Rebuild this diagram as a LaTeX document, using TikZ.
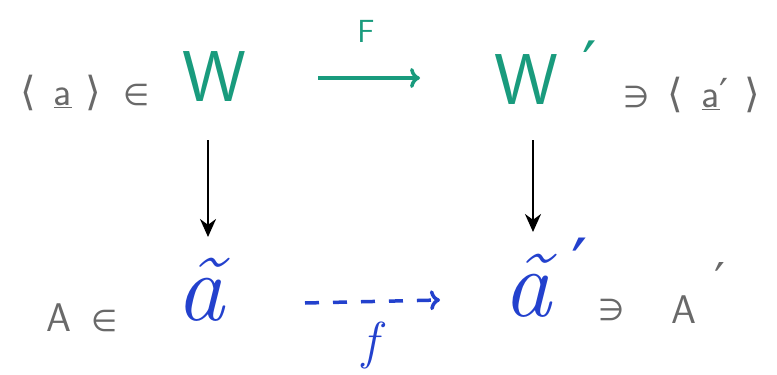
\documentclass[tikz,border=0pt]{standalone}
\usepackage{fontspec}
\newfontfamily\symf{DejaVu Sans}
\usetikzlibrary{arrows.meta}
\definecolor{penGreen}{RGB}{25,155,125}
\definecolor{penBlue}{RGB}{35,65,205}
\definecolor{penGray}{RGB}{105,105,105}
\tikzset{
  graytxt/.style={text=penGray, inner sep=0pt, font=\fontsize{40}{44}\selectfont\sffamily},
  greentxt/.style={text=penGreen, inner sep=0pt, font=\fontsize{72}{76}\selectfont\sffamily},
  bluetxt/.style={text=penBlue, inner sep=0pt, font=\fontsize{96}{100}\selectfont\itshape},
  downarrow/.style={draw=black, line width=2.4pt, -{Stealth[length=18pt,width=16pt]}},
  toparrow/.style={draw=penGreen, line width=3.5pt, -{To[length=10pt,width=20pt]}},
  dasharrow/.style={draw=penBlue, line width=3.5pt, dash pattern=on 14pt off 14pt, -{To[length=10pt,width=20pt]}},
  lbl/.style={inner sep=0pt}
}
\newcommand{\pr}{{\symf ′}}
\begin{document}
\begin{tikzpicture}[x=1pt,y=-1pt]
\useasboundingbox (0,0) rectangle (777,375);
% top row
\node[graytxt] (lhs) at (85,93) {{\symf ⟨}\hspace{0.45em}\underline{a}\hspace{0.35em}{\symf ⟩}\hspace{0.55em}{\symf\fontsize{30}{30}\selectfont ∈}};
\node[greentxt] (W) at (214,77) {W};
\node[greentxt] (Wp) at (526,80) {W};
\node[lbl, text=penGreen, font=\fontsize{64}{64}\selectfont] (Wprime) at (590,64) {\pr};
\node[graytxt] (rhs) at (692,95) {{\symf\fontsize{30}{30}\selectfont ∋}\hspace{0.45em}{\symf ⟨}\hspace{0.45em}\underline{a}\pr\hspace{0.4em}{\symf ⟩}};
\node[lbl, text=penGreen, font=\fontsize{32}{32}\selectfont\sffamily] (F) at (366,31) {F};
% bottom row
\node[graytxt] (A) at (82,318) {A\hspace{0.5em}{\symf\fontsize{30}{30}\selectfont ∈}};
\node[bluetxt] (at) at (200,290) {\~a};
\node[bluetxt] (atp) at (527,286) {\~a};
\node[lbl, text=penBlue, font=\fontsize{72}{72}\selectfont] (atprime) at (580,264) {\pr};
\node[graytxt] (ni) at (612,310) {{\symf\fontsize{30}{30}\selectfont ∋}};
\node[graytxt] (Ap) at (684,310) {A};
\node[lbl, text=penGray, font=\fontsize{48}{48}\selectfont] (Approx) at (720,280) {\pr};
\node[lbl, text=penBlue, font=\fontsize{52}{52}\selectfont\itshape] (f) at (370,345) {f};
% connector end points
\coordinate (topS) at (318,78);
\coordinate (topE) at (420,78);
\coordinate (lS) at (208,140);
\coordinate (lE) at (208,237);
\coordinate (rS) at (533,140);
\coordinate (rE) at (533,232);
\coordinate (bS) at (305,303);
\coordinate (bE) at (440,300);
% connectors
\draw[toparrow] (topS) -- (topE);
\draw[downarrow] (lS) -- (lE);
\draw[downarrow] (rS) -- (rE);
\draw[dasharrow] (bS) -- (bE);
\end{tikzpicture}
\end{document}
